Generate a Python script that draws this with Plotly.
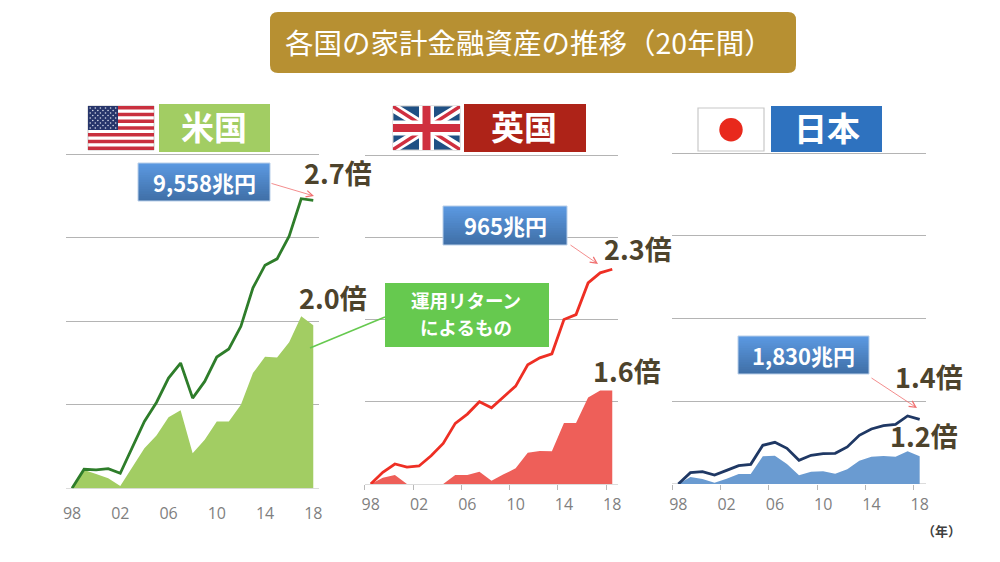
"""各国の家計金融資産の推移: three small panels, decorated like the slide."""

import plotly.graph_objects as go

FONT_JP = "Noto Sans CJK JP"
W, H = 1000, 562

YEARS = ["98", "99", "00", "01", "02", "03", "04", "05", "06", "07", "08",
         "09", "10", "11", "12", "13", "14", "15", "16", "17", "18"]

# values are read in gridline units (the source chart hides its y axis)
US_TOTAL = [0, .228, .22, .236, .18, .492, .80, 1.028, 1.32, 1.5, 1.08,
            1.28, 1.572, 1.668, 1.94, 2.4, 2.672, 2.748, 3.02, 3.468, 3.448]
US_RETURN = [0, .22, .172, .12, .028, .26, .48, .632, .852, .936, .42,
             .58, .8, .8, 1.0, 1.38, 1.576, 1.568, 1.748, 2.06, 1.952]
UK_TOTAL = [0, .142, .243, .206, .219, .344, .494, .737, .85, 1.0, .927,
            1.06, 1.19, 1.449, 1.534, 1.583, 2.0, 2.06, 2.445, 2.567, 2.611]
UK_RETURN = [0, .077, .109, 0, 0, 0, 0, .109, .109, .15, .04,
             .117, .19, .38, .4, .397, .741, .741, 1.053, 1.138, 1.138]
JP_TOTAL = [0, .137, .149, .109, .165, .222, .238, .468, .504, .431, .286,
            .347, .367, .371, .448, .589, .665, .706, .722, .823, .782]
JP_RETURN = [0, .085, .06, .016, .065, .121, .121, .335, .343, .242, .105,
             .149, .153, .125, .177, .282, .331, .339, .331, .395, .335]

PANELS = [
    {"total": US_TOTAL, "ret": US_RETURN, "line": "#2e7d2a", "fill": "#a2cd63",
     "box": (66, 319.3, 154.3, 488.3), "ticks": "", "standoff": 14},
    {"total": UK_TOTAL, "ret": UK_RETURN, "line": "#ee2f24", "fill": "#ee5f59",
     "box": (364.7, 618.3, 155, 484), "ticks": "outside", "standoff": 9},
    {"total": JP_TOTAL, "ret": JP_RETURN, "line": "#1f3864", "fill": "#6a9bd1",
     "box": (672.3, 925.7, 153.3, 484), "ticks": "outside", "standoff": 9},
]
Y_TOP = 4.03  # a little above the last gridline, plotly clips grid lines within 1px of the edge


def px(x):
    return x / W


def py(y):
    return 1 - y / H


def rect(x0, y0, x1, y1, fill, line=None, width=1):
    return dict(type="rect", xref="paper", yref="paper",
                x0=px(x0), x1=px(x1), y0=py(y0), y1=py(y1), fillcolor=fill,
                line=dict(color=line, width=width) if line else dict(width=0))


def poly(points, fill):
    path = "M " + " L ".join(f"{px(x)},{py(y)}" for x, y in points) + " Z"
    return dict(type="path", xref="paper", yref="paper", path=path,
                fillcolor=fill, line=dict(width=0))


def gradient_box(x0, y0, x1, y1):
    # plotly shapes have no gradient fill, so stack strips that overlap downwards
    top, bottom = (91, 152, 224), (64, 112, 168)
    steps = 16
    out = []
    for i in range(steps):
        t = i / (steps - 1)
        c = [round(a + (b - a) * t) for a, b in zip(top, bottom)]
        h = (y1 - y0) / steps
        out.append(rect(x0, y0 + i * h, x1, y1, f"rgb({c[0]},{c[1]},{c[2]})"))
    out.append(rect(x0, y0, x1, y1, "rgba(0,0,0,0)", "#b9cfe9", 1))
    return out


def text(x, y, s, size, color, bold=False, family=FONT_JP):
    label = f"<b>{s}</b>" if bold else s
    return dict(xref="paper", yref="paper", x=px(x), y=py(y), text=label, showarrow=False,
                xanchor="center", yanchor="middle",
                font=dict(family=family, size=size, color=color))


def arrow(x0, y0, x1, y1):
    return dict(xref="paper", yref="paper", axref="pixel", ayref="pixel",
                x=px(x1), y=py(y1), ax=x0 - x1, ay=y0 - y1, text="", showarrow=True,
                arrowhead=5, arrowsize=1.6, arrowwidth=0.8, arrowcolor="#f07070")


fig = go.Figure()
layout_axes = {}
for i, p in enumerate(PANELS, start=1):
    suffix = "" if i == 1 else str(i)
    xa, ya = f"x{suffix}", f"y{suffix}"
    fig.add_trace(go.Scatter(x=YEARS, y=p["ret"], xaxis=xa, yaxis=ya, mode="lines",
                             fill="tozeroy", fillcolor=p["fill"], line=dict(width=0, color=p["fill"])))
    fig.add_trace(go.Scatter(x=YEARS, y=p["total"], xaxis=xa, yaxis=ya, mode="lines",
                             line=dict(color=p["line"], width=2.8)))
    x0, x1, y0, y1 = p["box"]
    y0 -= (y1 - y0) / 4 * (Y_TOP - 4)
    layout_axes[f"xaxis{suffix}"] = dict(
        domain=[px(x0), px(x1)], type="category", categoryorder="array", categoryarray=YEARS,
        range=[-0.5, 20.5], tickson="boundaries", tick0=0, dtick=4, ticks=p["ticks"], ticklen=5,
        tickangle=0, tickcolor="#b8b8b8", showgrid=False, showline=False, zeroline=False, anchor=ya,
        ticklabelstandoff=p["standoff"],
        tickfont=dict(family="Open Sans", size=16, color="#7f7f7f"))
    layout_axes[f"yaxis{suffix}"] = dict(
        domain=[py(y1), py(y0)], range=[0, Y_TOP], dtick=1, showticklabels=False, ticks="",
        showgrid=True, gridcolor="#b4b4b4", gridwidth=1.3, zeroline=True,
        zerolinecolor="#dcdcdc", zerolinewidth=1.3, anchor=xa)

shapes = []

# title plate
r, x0, y0, x1, y1 = 8, 270, 12, 796, 73
plate = (f"M {px(x0 + r)},{py(y0)} L {px(x1 - r)},{py(y0)} Q {px(x1)},{py(y0)} {px(x1)},{py(y0 + r)} "
         f"L {px(x1)},{py(y1 - r)} Q {px(x1)},{py(y1)} {px(x1 - r)},{py(y1)} "
         f"L {px(x0 + r)},{py(y1)} Q {px(x0)},{py(y1)} {px(x0)},{py(y1 - r)} "
         f"L {px(x0)},{py(y0 + r)} Q {px(x0)},{py(y0)} {px(x0 + r)},{py(y0)} Z")
shapes.append(dict(type="path", xref="paper", yref="paper", path=plate,
                   fillcolor="#b79032", line=dict(width=0)))

# US flag
fx0, fx1, fy0, fy1 = 88, 154, 106, 150
shapes.append(rect(fx0, fy0, fx1, fy1, "#ffffff", "#c8c8c8"))
for s in range(0, 13, 2):
    h = (fy1 - fy0) / 13
    shapes.append(rect(fx0, fy0 + s * h, fx1, fy0 + (s + 1) * h, "#c9303e"))
shapes.append(rect(fx0, fy0, fx0 + 30, fy0 + 24, "#27356b"))
for row in range(9):
    for col in range(11):
        if (row + col) % 2 == 0:
            cx, cy = fx0 + 2.2 + col * 2.55, fy0 + 2 + row * 2.5
            shapes.append(dict(type="circle", xref="paper", yref="paper",
                               x0=px(cx - .8), x1=px(cx + .8), y0=py(cy - .8), y1=py(cy + .8),
                               fillcolor="#d6dbe8", line=dict(width=0)))

# UK flag
fx0, fx1, fy0, fy1 = 393, 460, 106, 150
mx, my = (fx0 + fx1) / 2, (fy0 + fy1) / 2
shapes.append(rect(fx0, fy0, fx1, fy1, "#1f5084", "#c8c8c8"))
for d, col in ((7, "#ffffff"), (2.5, "#cf2f3f")):
    shapes.append(poly([(fx0, fy0 + d), (fx0, fy0), (fx0 + d, fy0), (fx1, fy1 - d), (fx1, fy1), (fx1 - d, fy1)], col))
    shapes.append(poly([(fx1 - d, fy0), (fx1, fy0), (fx1, fy0 + d), (fx0 + d, fy1), (fx0, fy1), (fx0, fy1 - d)], col))
shapes.append(rect(mx - 7.5, fy0, mx + 7.5, fy1, "#ffffff"))
shapes.append(rect(fx0, my - 7.5, fx1, my + 7.5, "#ffffff"))
shapes.append(rect(mx - 4, fy0, mx + 4, fy1, "#cf2f3f"))
shapes.append(rect(fx0, my - 4, fx1, my + 4, "#cf2f3f"))

# Japan flag
shapes.append(rect(698, 108, 764, 151, "#ffffff", "#c8c8c8", 1.2))
shapes.append(dict(type="circle", xref="paper", yref="paper", x0=px(719.3), x1=px(742.7),
                   y0=py(118), y1=py(141.5), fillcolor="#e8291c", line=dict(width=0)))

# country plates
shapes.append(rect(159, 104, 270, 152, "#a2cd63"))
shapes.append(rect(464, 104, 586, 152, "#ae2318"))
shapes.append(rect(771, 106, 882, 152, "#2e72bf"))

# amount boxes and the return callout
shapes += gradient_box(138, 163, 270, 201)
shapes += gradient_box(443, 206, 567, 245)
shapes += gradient_box(738, 336, 869, 374)
shapes.append(dict(type="line", xref="paper", yref="paper", x0=px(310), y0=py(348),
                   x1=px(385), y1=py(317), line=dict(color="#66c94f", width=1.6)))
shapes.append(rect(385, 283, 549, 347, "#66c94f"))

annotations = [
    text(529, 42, "各国の家計金融資産の推移（20年間）", 28.5, "#ffffff"),
    text(214, 126, "米国", 33, "#ffffff", True),
    text(524, 126, "英国", 33, "#ffffff", True),
    text(827, 127, "日本", 33, "#ffffff", True),
    text(204, 182, "9,558兆円", 22, "#ffffff", True),
    text(505, 225, "965兆円", 22, "#ffffff", True),
    text(803, 355, "1,830兆円", 22, "#ffffff", True),
    text(466, 300, "運用リターン", 18.5, "#ffffff", True),
    text(466, 327, "によるもの", 18.5, "#ffffff", True),
    text(338, 173, "2.7倍", 27, "#4d432c", True),
    text(333, 297, "2.0倍", 27, "#4d432c", True),
    text(638, 249, "2.3倍", 27, "#4d432c", True),
    text(627, 370, "1.6倍", 27, "#4d432c", True),
    text(929, 376, "1.4倍", 27, "#4d432c", True),
    text(924, 436, "1.2倍", 27, "#4d432c", True),
    text(941, 530, "（年）", 13, "#404040", True),
    arrow(270, 183, 314, 196),
    arrow(569, 244, 598, 264),
    arrow(870, 377, 917, 408),
]

fig.update_layout(width=W, height=H, autosize=False,
                  margin=dict(l=0, r=0, t=0, b=0, pad=0, autoexpand=False),
                  paper_bgcolor="#ffffff", plot_bgcolor="rgba(0,0,0,0)", showlegend=False,
                  shapes=shapes, annotations=annotations, **layout_axes)

fig.write_html("out.html", config={"displayModeBar": False},
               post_script="document.body.style.margin='0';")
